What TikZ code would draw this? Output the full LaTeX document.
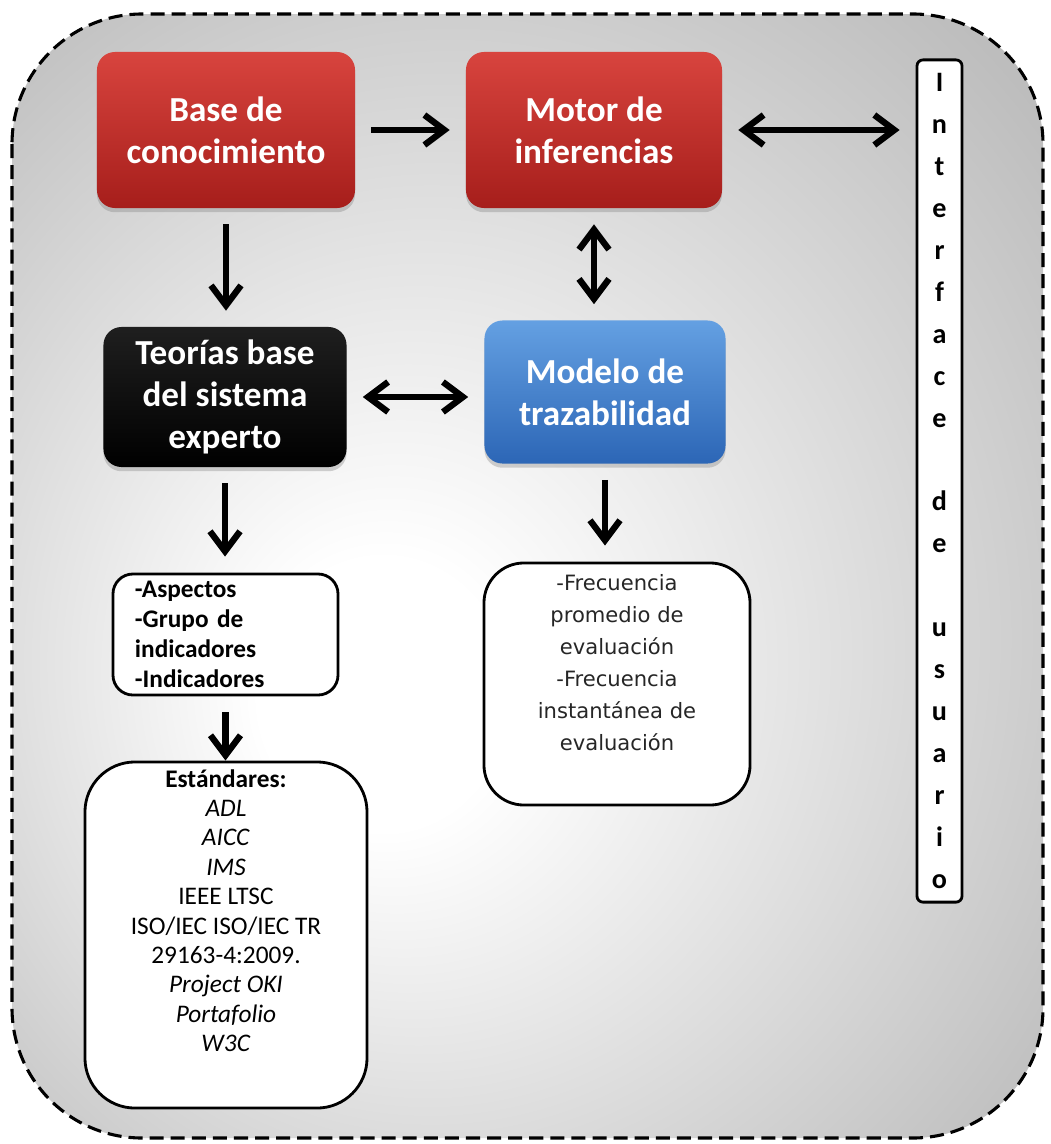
\documentclass[tikz,border=0pt]{standalone}
\usepackage{fontspec}
\setmainfont{Carlito}
\newfontfamily\frecfont{DejaVu Sans}
\usetikzlibrary{arrows.meta,positioning,shadows,calc}

\definecolor{redtop}{RGB}{216,68,62}
\definecolor{redbot}{RGB}{166,30,27}
\definecolor{bluetop}{RGB}{100,160,226}
\definecolor{bluebot}{RGB}{44,102,182}
\definecolor{framegray}{RGB}{156,156,156}

\pgfdeclareradialshading{panelglow}{\pgfpoint{-8bp}{-6bp}}{color(0bp)=(white); color(6bp)=(white); color(50bp)=(framegray)}

\begin{document}
\begin{tikzpicture}[x=0.025cm, y=-0.025cm, >=Stealth]

    % radio del marco exterior
    \def\rad{3.25cm}

    \tikzset{
      block/.style={rounded corners=0.45cm, align=center, text=white,
        font=\fontsize{25}{30}\selectfont\bfseries,
        drop shadow={shadow xshift=0pt, shadow yshift=-3pt, opacity=0.35}},
      redblock/.style={block, top color=redtop, bottom color=redbot,
        minimum width=6.45cm, minimum height=3.9cm},
      darkblock/.style={block, top color=black!88, bottom color=black,
        minimum width=6.075cm, minimum height=3.5cm},
      blueblock/.style={block, top color=bluetop, bottom color=bluebot,
        minimum width=6.025cm, minimum height=3.575cm},
      whitebox/.style={draw, line width=2pt, fill=white},
      tip/.tip={Straight Barb[length=5mm, width=7.5mm]},
      link/.style={line width=4.5pt, -tip, shorten >=4mm, shorten <=4mm},
      dlink/.style={link, tip-tip}
    }

    \useasboundingbox (0,0) rectangle (1051,1144);

    % 1. marco punteado con fondo degradado
    \shade[shading=panelglow, rounded corners=\rad] (12,14) rectangle (1043,1138);
    \draw[line width=2.2pt, dash pattern=on 10pt off 5pt, rounded corners=\rad] (12,14) rectangle (1043,1138);

    % 2. bloques principales
    \node[redblock] (base) at (226,130) {Base de\\conocimiento};
    \node[redblock, minimum width=6.4cm] (motor) at (594,130) {Motor de\\inferencias};
    \node[darkblock] (teorias) at (225,397) {Teorías base\\del sistema\\experto};
    \node[blueblock] (modelo) at (605,392) {Modelo de\\trazabilidad};

    % 3. interfaz vertical
    \node[whitebox, rounded corners=0.15cm, minimum width=1.125cm, minimum height=21.05cm,
      inner sep=0pt, align=center, font=\fontsize{20}{29.8}\selectfont\bfseries]
      (iface) at (939.5,481)
      {I\\n\\t\\e\\r\\f\\a\\c\\e\\~\\d\\e\\~\\u\\s\\u\\a\\r\\i\\o};

    % 4. cajas de detalle
    \node[whitebox, rounded corners=0.5cm, minimum width=5.625cm, minimum height=3.025cm,
      inner xsep=0.55cm, text width=4.525cm, align=left,
      font=\fontsize{18}{21.3}\selectfont\bfseries]
      (aspectos) at (225.5,634.5) {-Aspectos\\-Grupo de\\indicadores\\-Indicadores};

    \node[whitebox, rounded corners=1.25cm, minimum width=7.05cm, minimum height=8.65cm]
      (estandares) at (226,935) {};
    \node[align=center, font=\fontsize{18}{20.9}\selectfont] (estlist) at (226,910.5)
      {\textbf{Estándares:}\\\textit{ADL}\\\textit{AICC}\\\textit{IMS}\\IEEE LTSC\\
       ISO/IEC ISO/IEC TR\\29163-4:2009.\\\textit{Project OKI}\\\textit{Portafolio}\\\textit{W3C}};

    \node[whitebox, rounded corners=1cm, minimum width=6.65cm, minimum height=6.05cm]
      (frec) at (617,684) {};
    \node[align=center, text=black!85, font=\frecfont\fontsize{15}{22.7}\selectfont]
      (freclines) at (617,662.5)
      {-Frecuencia\\promedio de\\evaluación\\-Frecuencia\\instantánea de\\evaluación};

    % 5. conectores
    \draw[link] (base) -- (motor);
    \draw[dlink] (motor.east) -- (motor.east -| iface.west);
    \draw[link] (base.south) -- (base.south |- teorias.north);
    \draw[dlink] (motor.south) -- (motor.south |- modelo.north);
    \draw[dlink] (teorias.east) -- (teorias.east -| modelo.west);
    \draw[link] (teorias.south) -- (teorias.south |- aspectos.north);
    \draw[link] (modelo.south) -- (modelo.south |- frec.north);
    \draw[link, shorten >=0pt] (aspectos.south) -- (aspectos.south |- estandares.north);

\end{tikzpicture}
\end{document}
